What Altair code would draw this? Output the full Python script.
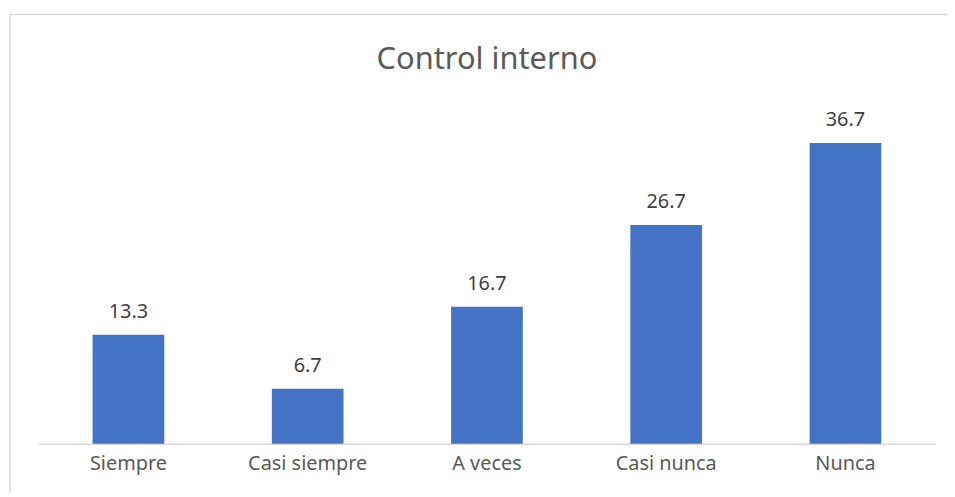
import altair as alt
import pandas as pd

categories = ["Siempre", "Casi siempre", "A veces", "Casi nunca", "Nunca"]
values = [13.3, 6.7, 16.7, 26.7, 36.7]
title_text = "Control interno"

df = pd.DataFrame({"cat": categories, "val": values})
FONT = "Noto Sans"
W, H = 902, 330

x = alt.X("cat:N", sort=categories, title=None,
          scale=alt.Scale(paddingInner=0.6, paddingOuter=0.3),
          axis=alt.Axis(labelAngle=0, ticks=False, labelFontSize=20, labelColor="#595959",
                        labelFont=FONT, labelPadding=10, domainColor="#d9d9d9", domainWidth=1.5))
y = alt.Y("val:Q", title=None, scale=alt.Scale(domain=[0, 40]), axis=None)

one = pd.DataFrame({"t": [title_text]})
top_border = alt.Chart(one).mark_rule(stroke="#d9d9d9", strokeWidth=1.5, clip=False).encode(
    x=alt.value(-29), x2=alt.value(W + 200), y=alt.value(-102))
left_border = alt.Chart(one).mark_rule(stroke="#d9d9d9", strokeWidth=1.5, clip=False).encode(
    x=alt.value(-29), y=alt.value(-102), y2=alt.value(H + 200))

title = alt.Chart(one).mark_text(fontSize=31, font=FONT, color="#595959", baseline="middle",
                                 align="center").encode(
    x=alt.value(W / 2), y=alt.value(-56), text="t:N")

bars = alt.Chart(df).mark_bar(color="#4472C4").encode(x=x, y=y)
labels = alt.Chart(df).mark_text(dy=-17, baseline="alphabetic", fontSize=20, font=FONT,
                                 color="#404040").encode(x=x, y=y, text=alt.Text("val:Q", format=".1f"))

chart = alt.layer(top_border, left_border, title, bars, labels).properties(
    width=W, height=H,
    autosize=alt.AutoSizeParams(type="none"),
    padding={"left": 31, "top": 107, "right": 12, "bottom": 48},
).configure_view(stroke=None)

chart.save("out.html", embed_options={"renderer": "svg", "actions": False})
